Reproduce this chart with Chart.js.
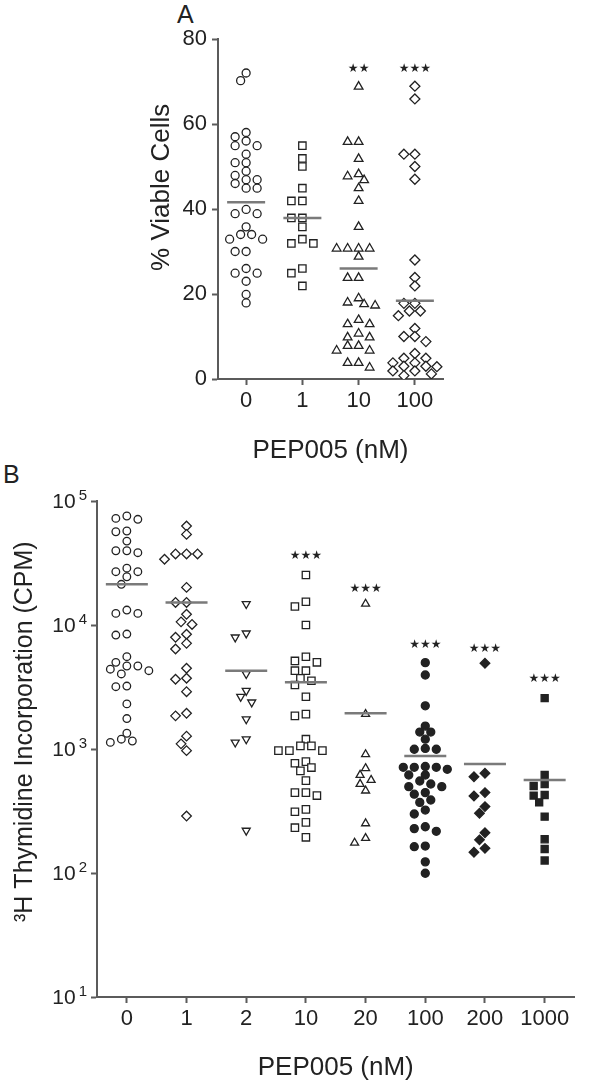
<!DOCTYPE html>
<html>
<head>
<meta charset="utf-8">
<script src="https://cdn.jsdelivr.net/npm/chart.js@4.4.1/dist/chart.umd.min.js"></script>
<style>
  body { margin: 0; background: #fff; }
  #wrap { position: relative; width: 598px; height: 1087px; font-family: Arial, 'Liberation Sans', sans-serif; }
  .panel-label { position: absolute; font-size: 25px; color: #222; }
  canvas { position: absolute; left: 0; }
</style>
</head>
<body>
<div id="wrap">
  <div class="panel-label" style="left:177px; top:0px;">A</div>
  <div class="panel-label" style="left:3px; top:460px;">B</div>
  <canvas id="chart-a" width="598" height="470" style="top:0px;"></canvas>
  <canvas id="chart-b" width="598" height="617" style="top:470px;"></canvas>
</div>
<script>
//panel A data (% viable cells)
const catsA = ['0', '1', '10', '100'];
const yTicksA = [0, 20, 40, 60, 80];
const viable0 = [72, 70.2, 58, 57, 56, 54.9, 54.9, 52.9, 50.9, 50.9, 48.9, 47.9, 46.9, 46.9, 46, 44.9, 44.9,
  39.9, 38.9, 38.9, 35.8, 34, 34, 32.9, 32.9, 30, 30, 26, 24.9, 24.9, 23, 19.9, 17.9];
const viable1 = [54.9, 51.9, 50, 44.9, 41.9, 41.9, 37.9, 37.9, 35.8, 32.9, 31.9, 31.9, 26, 24.9, 21.9];
const viable10 = [68.8, 55.8, 55.8, 51.8, 48.2, 47.7, 46.8, 44.9, 41.9, 35.8, 30.7, 30.7, 30.7, 30.7, 28.8,
  23.8, 23.8, 19, 18, 17.6, 17.3, 13.9, 12.9, 12.9, 10.7, 9.8, 9.8, 7.8, 7.8, 6.7, 6.7, 3.8, 3.8, 2.7];
const viable100 = [68.9, 65.9, 52.9, 52.9, 50, 47, 28, 23.9, 21.9, 17.8, 17.8, 16, 16, 14.9, 11.9, 10, 10,
  8.8, 6, 4.9, 4.9, 3.8, 3.8, 3, 3, 2.9, 1.9, 1.9, 1.2, 0.8];
const meansA = [41.6, 37.9, 26, 18.4];
const starsA = ['', '', '**', '***'];
const starValA = [null, null, 73, 73];

//panel B data (3H thymidine CPM)
const catsB = ['0', '1', '2', '10', '20', '100', '200', '1000'];
const yTicksB = [10, 100, 1000, 10000, 100000];
const cpm0 = [75700, 72400, 71200, 57300, 56500, 47500, 39700, 39700, 38300, 28700, 26900, 26900, 24500, 21300,
  13200, 12400, 12400, 8450, 8300, 5550, 5000, 4670, 4670, 4400, 4280, 4030, 3220, 3180, 2310, 1760, 1340, 1200, 1160, 1130];
const cpm1 = [62800, 53800, 37400, 37400, 37400, 33900, 20100, 15200, 15200, 12200, 10600, 10100, 8420, 7960, 7110,
  6400, 4480, 3720, 3650, 2900, 1940, 1850, 1270, 1100, 970, 288];
const cpm2 = [14800, 8570, 7960, 4030, 2950, 2640, 2380, 1740, 1200, 1130, 220];
const cpm10 = [25300, 15400, 14100, 10000, 5550, 5130, 5000, 4280, 4280, 3720, 3550, 3280, 2640, 1910, 1850, 1200,
  1060, 1060, 970, 970, 970, 791, 767, 708, 666, 556, 445, 445, 421, 326, 312, 256, 232, 194];
const cpm20 = [14800, 1910, 906, 699, 617, 562, 522, 461, 251, 191, 175];
const cpm100 = [4970, 3950, 2230, 1530, 1370, 1370, 1200, 1010, 995, 995, 723, 712, 712, 712, 686, 617, 617, 552,
  522, 497, 497, 445, 432, 388, 371, 322, 299, 236, 228, 217, 165, 163, 123, 99.5];
const cpm200 = [4910, 637, 598, 445, 418, 343, 303, 211, 185, 158, 147];
const cpm1000 = [2570, 617, 522, 503, 426, 421, 371, 285, 187, 156, 126];
const meansB = [21300, 15200, 4280, 3450, 1940, 879, 757, 562];
const starsB = ['', '', '', '***', '***', '***', '***', '***'];
const starValB = [null, null, null, 36000, 19500, 6900, 6400, 3670];

//styles
const FONT = "Arial, 'Liberation Sans', sans-serif";
const axisColor = '#5b5b5b';
const inkColor = '#222';
const meanColor = '#7a7a7a';

//spread points sideways so they don't sit on top of each other (like a dot plot)
const swarmPlugin = {
  id: 'swarm',
  afterDatasetsUpdate(chart, args, opts) {
    chart.data.datasets.forEach((ds, i) => {
      if (ds.isMean) return;
      const meta = chart.getDatasetMeta(i);
      const pts = meta.data.slice().sort((a, b) => a.y - b.y);
      const placed = [];
      pts.forEach((p) => {
        const cx = p.x;
        for (let k = 0; k < 30; k++) {
          const off = (k % 2 ? -1 : 1) * Math.ceil(k / 2) * opts.step;
          const nx = cx + off;
          if (placed.every((q) => Math.hypot(q.x - nx, q.y - p.y) >= opts.minDist)) {
            p.x = nx;
            placed.push({ x: nx, y: p.y });
            break;
          }
        }
      });
    });
  },
};

//significance stars above groups
const starPlugin = {
  id: 'stars',
  afterDatasetsDraw(chart, args, opts) {
    const { ctx, scales } = chart;
    ctx.save();
    ctx.font = `${opts.size}px 'DejaVu Sans', ${FONT}`;
    ctx.fillStyle = inkColor;
    ctx.textAlign = 'center';
    ctx.textBaseline = 'middle';
    opts.labels.forEach((t, i) => {
      if (!t) return;
      const x = scales.x.getPixelForValue(i);
      const y = scales.y.getPixelForValue(opts.values[i]);
      ctx.fillText(t.replace(/\*/g, '★'), x, y);
    });
    ctx.restore();
  },
};

//"10" with a raised exponent for the log axis
const powerLabelPlugin = {
  id: 'powerLabels',
  afterDraw(chart, args, opts) {
    if (!opts.values) return;
    const { ctx, scales } = chart;
    const y = scales.y;
    ctx.save();
    ctx.fillStyle = inkColor;
    ctx.textBaseline = 'middle';
    opts.values.forEach((v) => {
      const py = y.getPixelForValue(v);
      const exp = String(Math.round(Math.log10(v)));
      const right = y.right - opts.gap;
      ctx.font = `${opts.expSize}px ${FONT}`;
      const ew = ctx.measureText(exp).width;
      ctx.textAlign = 'right';
      ctx.fillText(exp, right, py - 5);
      ctx.font = `${opts.size}px ${FONT}`;
      ctx.fillText('10', right - ew - 3, py + 1);
    });
    ctx.restore();
  },
};

const makeSet = (cats, i, values, style, filled, radius, rotation) => ({
  data: values.map((v) => ({ x: cats[i], y: v })),
  pointStyle: style,
  pointRotation: rotation || 0,
  pointRadius: radius,
  pointBorderWidth: 1.3,
  pointBorderColor: inkColor,
  pointBackgroundColor: filled ? inkColor : '#fff',
  showLine: false,
});

const makeMeans = (cats, means, r) => ({
  isMean: true,
  data: means.map((v, i) => ({ x: cats[i], y: v })),
  pointStyle: 'line',
  pointRadius: r,
  pointBorderWidth: 2.5,
  pointBorderColor: meanColor,
  showLine: false,
});

const axisGrid = (len) => ({
  drawOnChartArea: false,
  drawTicks: true,
  tickLength: len,
  tickColor: axisColor,
  tickWidth: 2,
  offset: false,
});

//panel A
const drawPanelA = () => {
  new Chart(document.querySelector('#chart-a'), {
    type: 'scatter',
    data: {
      labels: catsA,
      datasets: [
        makeMeans(catsA, meansA, 19),
        makeSet(catsA, 0, viable0, 'circle', false, 4),
        makeSet(catsA, 1, viable1, 'rect', false, 5.2),
        makeSet(catsA, 2, viable10, 'triangle', false, 5),
        makeSet(catsA, 3, viable100, 'rectRot', false, 5),
      ],
    },
    options: {
      responsive: false,
      animation: false,
      devicePixelRatio: 1,
      layout: { padding: { top: 39, right: 155, left: 0, bottom: 0 } },
      plugins: {
        legend: { display: false },
        tooltip: { enabled: false },
        swarm: { step: 5.5, minDist: 8 },
        stars: { labels: starsA, values: starValA, size: 12 },
      },
      scales: {
        x: {
          type: 'category',
          offset: true,
          grid: axisGrid(6),
          border: { color: axisColor, width: 2 },
          ticks: { color: inkColor, font: { family: FONT, size: 22 }, padding: 3 },
          title: { display: true, text: 'PEP005 (nM)', color: inkColor, font: { family: FONT, size: 26 }, padding: { top: 2 } },
          afterFit: (s) => { s.height = 91; },
        },
        y: {
          type: 'linear',
          min: 0,
          max: 80,
          afterBuildTicks: (s) => { s.ticks = yTicksA.map((v) => ({ value: v })); },
          grid: axisGrid(6),
          border: { color: axisColor, width: 2 },
          ticks: { color: inkColor, font: { family: FONT, size: 22 }, padding: 5 },
          title: { display: true, text: '      % Viable Cells', color: inkColor, font: { family: FONT, size: 26 }, padding: { top: 146 } },
          afterFit: (s) => { s.width = 218; },
        },
      },
    },
    plugins: [swarmPlugin, starPlugin],
  });
};

//panel B
const drawPanelB = () => {
  new Chart(document.querySelector('#chart-b'), {
    type: 'scatter',
    data: {
      labels: catsB,
      datasets: [
        makeMeans(catsB, meansB, 21),
        makeSet(catsB, 0, cpm0, 'circle', false, 3.8),
        makeSet(catsB, 1, cpm1, 'rectRot', false, 4.8),
        makeSet(catsB, 2, cpm2, 'triangle', false, 4.6, 180),
        makeSet(catsB, 3, cpm10, 'rect', false, 5.2),
        makeSet(catsB, 4, cpm20, 'triangle', false, 4.6),
        makeSet(catsB, 5, cpm100, 'circle', true, 4),
        makeSet(catsB, 6, cpm200, 'rectRot', true, 4.8),
        makeSet(catsB, 7, cpm1000, 'rect', true, 5),
      ],
    },
    options: {
      responsive: false,
      animation: false,
      devicePixelRatio: 1,
      layout: { padding: { top: 31, right: 4, left: 0, bottom: 0 } },
      plugins: {
        legend: { display: false },
        tooltip: { enabled: false },
        swarm: { step: 5.5, minDist: 8 },
        stars: { labels: starsB, values: starValB, size: 12 },
        powerLabels: { values: yTicksB, size: 21, expSize: 15, gap: 10 },
      },
      scales: {
        x: {
          type: 'category',
          offset: true,
          grid: axisGrid(6),
          border: { color: axisColor, width: 2 },
          ticks: { color: inkColor, font: { family: FONT, size: 22 }, padding: 3 },
          title: { display: true, text: 'PEP005 (nM)', color: inkColor, font: { family: FONT, size: 26 }, padding: { top: 6 } },
          afterFit: (s) => { s.height = 90; },
        },
        y: {
          type: 'logarithmic',
          min: 10,
          max: 100000,
          afterBuildTicks: (s) => { s.ticks = yTicksB.map((v) => ({ value: v })); },
          grid: axisGrid(6),
          border: { color: axisColor, width: 2 },
          ticks: { display: false },
          title: { display: true, text: '     ³H Thymidine Incorporation (CPM)', color: inkColor, font: { family: FONT, size: 25 }, padding: { top: 10 } },
          afterFit: (s) => { s.width = 97; },
        },
      },
    },
    plugins: [swarmPlugin, starPlugin, powerLabelPlugin],
  });
};

//main function
const main = () => {
  drawPanelA();
  drawPanelB();
};

main();
</script>
</body>
</html>
